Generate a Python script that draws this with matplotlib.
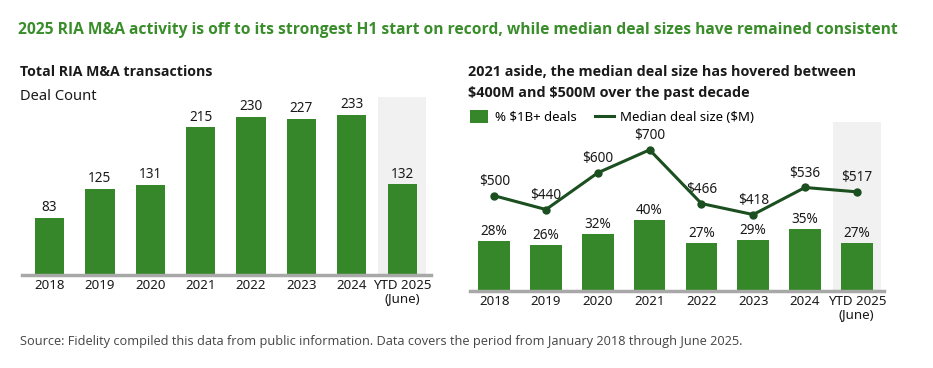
import matplotlib
matplotlib.use('Agg')
import matplotlib.pyplot as plt
from matplotlib.lines import Line2D
from matplotlib.patches import Patch
import numpy as np

plt.rcParams['font.family'] = ['Noto Sans', 'DejaVu Sans']
plt.rcParams['text.parse_math'] = False

# 数据
years = ['2018', '2019', '2020', '2021', '2022', '2023', '2024', 'YTD 2025\n(June)']
deal_count = [83, 125, 131, 215, 230, 227, 233, 132]
pct_1b = [28, 26, 32, 40, 27, 29, 35, 27]
median_size = [500, 440, 600, 700, 466, 418, 536, 517]

GREEN = '#368729'
DARK = '#1b4f1f'
TITLE_GREEN = '#3a8d2b'
AXIS_GRAY = '#a8a8a8'
SHADE = '#f1f1f1'
TXT = '#1a1a1a'

W, H = 933, 368
fig = plt.figure(figsize=(W / 100, H / 100), dpi=100)

fig.text(18 / W, 1 - 30 / H, '2025 RIA M&A activity is off to its strongest H1 start on record, while median deal sizes have remained consistent',
         color=TITLE_GREEN, fontsize=11.25, fontweight='bold', va='center', ha='left', family='Open Sans')

# 左图: 交易数量
ax1 = fig.add_axes([21.8 / W, 93 / H, 408.7 / W, 178.5 / H])
x = np.arange(len(years))
ax1.axvspan(6.52, 7.47, color=SHADE, zorder=0, lw=0)
ax1.bar(x, deal_count, width=0.58, color=GREEN, zorder=2)
for xi, v in zip(x, deal_count):
    ax1.annotate(str(v), (xi, v), xytext=(0, 2), textcoords='offset points',
                 ha='center', va='bottom', fontsize=9.8, color=TXT)
ax1.set_xlim(-0.55, 7.56)
ax1.set_ylim(0, 260)
ax1.set_xticks(x)
ax1.set_xticklabels(years, fontsize=9.6, color=TXT, linespacing=0.95)
ax1.tick_params(axis='x', length=0, pad=3)
ax1.set_yticks([])
for s in ['top', 'right', 'left']:
    ax1.spines[s].set_visible(False)
ax1.spines['bottom'].set_color(AXIS_GRAY)
ax1.spines['bottom'].set_linewidth(2.5)
ax1.spines['bottom'].set_zorder(3)

fig.text(20 / W, 1 - 72 / H, 'Total RIA M&A transactions', fontsize=10.2, fontweight='bold',
         color=TXT, va='center', ha='left', family='Open Sans')
fig.text(20 / W, 1 - 97 / H, 'Deal Count', fontsize=10.6, color=TXT, va='center', ha='left')

# 右图: 大额交易占比与中位数
ax2 = fig.add_axes([470 / W, 77 / H, 414 / W, 169.3 / H])
ax2.axvspan(6.535, 7.467, color=SHADE, zorder=0, lw=0)
ax2.bar(x, pct_1b, width=0.61, color=GREEN, zorder=2)
for xi, v in zip(x, pct_1b):
    ax2.annotate(f'{v}%', (xi, v), xytext=(0, 1.5), textcoords='offset points',
                 ha='center', va='bottom', fontsize=9.8, color=TXT)
ax2.set_xlim(-0.467, 7.525)
ax2.set_ylim(0, 95.6)
ax2.set_xticks(x)
ax2.set_xticklabels(years, fontsize=9.6, color=TXT, linespacing=0.95)
ax2.tick_params(axis='x', length=0, pad=3)
ax2.set_yticks([])
for s in ['top', 'right', 'left']:
    ax2.spines[s].set_visible(False)
ax2.spines['bottom'].set_color(AXIS_GRAY)
ax2.spines['bottom'].set_linewidth(2.5)
ax2.spines['bottom'].set_zorder(3)

ax3 = ax2.twinx()
ax3.plot(x, median_size, color=DARK, lw=2.2, marker='o', markersize=5, zorder=4)
for xi, v in zip(x, median_size):
    ax3.annotate(f'${v}', (xi, v), xytext=(0, 5), textcoords='offset points',
                 ha='center', va='bottom', fontsize=9.8, color=TXT)
ax3.set_ylim(85, 822.6)
ax3.set_yticks([])
for s in ax3.spines.values():
    s.set_visible(False)

fig.text(468 / W, 1 - 72 / H, '2021 aside, the median deal size has hovered between',
         fontsize=10.4, fontweight='bold', color=TXT, va='center', ha='left', family='Open Sans')
fig.text(468 / W, 1 - 93 / H, '$400M and $500M over the past decade',
         fontsize=10.4, fontweight='bold', color=TXT, va='center', ha='left', family='Open Sans')

handles = [Patch(facecolor=GREEN, edgecolor='none', label='% $1B+ deals'),
           Line2D([0], [0], color=DARK, lw=2.2, label='Median deal size ($M)')]
fig.legend(handles=handles, loc='center left', bbox_to_anchor=(470 / W, 1 - 117 / H),
           ncol=2, frameon=False, fontsize=9.5, handlelength=1.4, handleheight=1.1,
           handletextpad=0.5, columnspacing=1.4, borderaxespad=0, borderpad=0)

fig.text(20 / W, 1 - 341 / H, 'Source: Fidelity compiled this data from public information. Data covers the period from January 2018 through June 2025.',
         fontsize=9.2, color='#444444', va='center', ha='left', family='Open Sans')

fig.savefig('out.png', dpi=100)
